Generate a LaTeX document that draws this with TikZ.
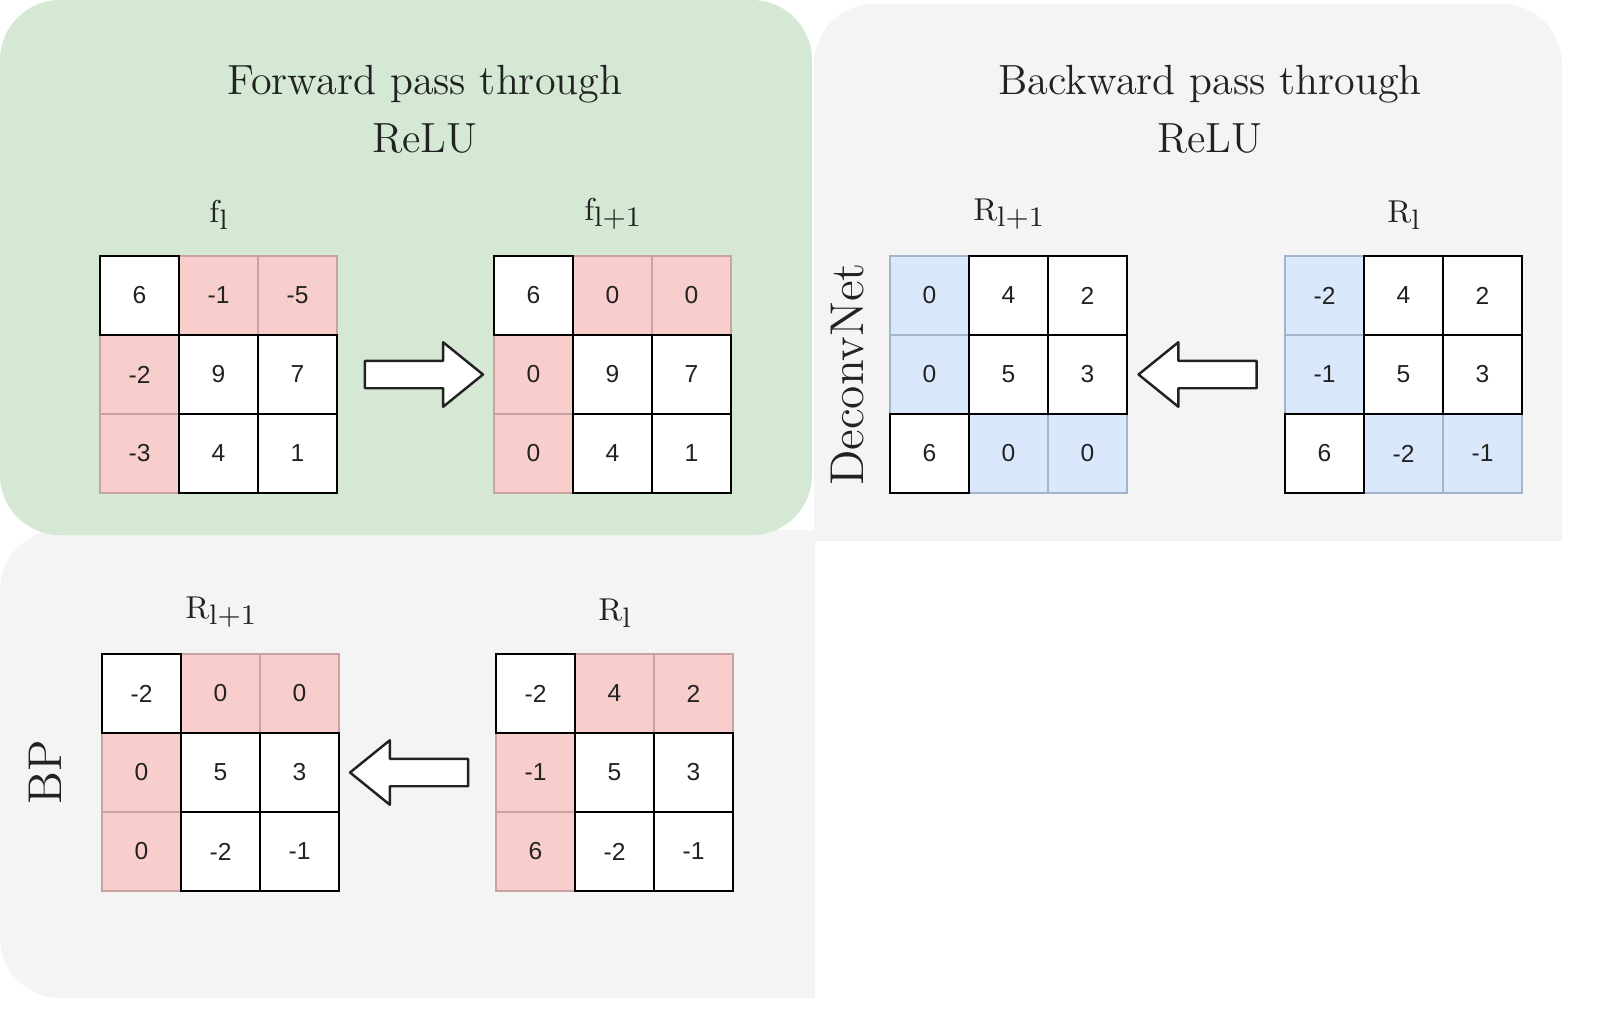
\documentclass[tikz,border=0pt]{standalone}
\usepackage{fontspec}
\setsansfont{Liberation Sans}
\usetikzlibrary{shapes,shapes.arrows,positioning,calc}

\definecolor{greenpanel}{HTML}{D5E8D4}
\definecolor{graypanel}{HTML}{F4F4F4}
\definecolor{pinkfill}{HTML}{F8CECC}
\definecolor{pinkline}{HTML}{C9A3A1}
\definecolor{bluefill}{HTML}{DAE8FC}
\definecolor{blueline}{HTML}{A3B4CC}
\definecolor{ink}{HTML}{222222}

\tikzset{
  basic/.style  = {inner sep=0pt, outer sep=0pt, minimum size=0.79cm, text=ink,
                   font=\sffamily\fontsize{7}{8}\selectfont},
  cell0/.style  = {basic, fill=white},
  cell1/.style  = {basic, fill=pinkfill, draw=pinkline, line width=0.4pt},
  cell2/.style  = {basic, fill=bluefill, draw=blueline, line width=0.4pt},
  rim0/.style   = {draw=black, line width=0.75pt},
  rim1/.style   = {draw=none},
  rim2/.style   = {draw=none},
  title/.style  = {align=center, text=ink, font=\fontsize{12}{16.5}\selectfont},
  lab/.style    = {text=ink, font=\fontsize{9}{10}\selectfont, inner sep=1pt},
  side/.style   = {text=ink, font=\fontsize{13.5}{15}\selectfont, rotate=90,
                   anchor=south, inner sep=0pt},
  blockarrow/.style = {single arrow, draw=ink, fill=white, line width=0.7pt,
                   line join=round, minimum height=1.18cm, inner xsep=0pt,
                   inner ysep=0.125cm, single arrow head extend=0.185cm,
                   single arrow tip angle=78}
}

% lowered index of a grid label
\newcommand{\idx}[1]{\raisebox{-0.5ex}{\fontsize{8}{9}\selectfont#1}}

% 3x3 grid: name, top left corner, list of value/tone
\newcommand{\cellgrid}[3]{%
  \foreach \val/\tone [count=\k from 0] in {#3} {
    \pgfmathtruncatemacro{\col}{mod(\k,3)}
    \pgfmathtruncatemacro{\row}{div(\k,3)}
    \node[cell\tone] (#1-\row-\col) at ($(#2)+(0.395+0.79*\col,-0.395-0.79*\row)$) {\val};
  }
  % black frames of the white cells on top
  \foreach \val/\tone [count=\k from 0] in {#3} {
    \pgfmathtruncatemacro{\col}{mod(\k,3)}
    \pgfmathtruncatemacro{\row}{div(\k,3)}
    \draw[rim\tone] (#1-\row-\col.north west) rectangle (#1-\row-\col.south east);
  }
}

\begin{document}
\begin{tikzpicture}
\useasboundingbox (0,0) rectangle (15.98,-10.09);

% panels
\begin{scope}
  \clip (0,-5.2) rectangle (8.15,-10.09);
  \fill[graypanel, rounded corners=0.6cm] (0,-5.3) rectangle (10,-9.98);
\end{scope}
\begin{scope}
  \clip (8,0) rectangle (15.98,-5.40);
  \fill[graypanel, rounded corners=0.6cm] (8.14,-0.04) rectangle (15.62,-7);
\end{scope}
\fill[greenpanel, rounded corners=0.6cm] (0,0) rectangle (8.12,-5.35);

% titles
\node[title] (fwdtitle) at (4.25,-1.09) {Forward pass through\\ReLU};
\node[title] (bwdtitle) at (12.1,-1.09) {Backward pass through\\ReLU};

% grids
\cellgrid{fl}{1.00,-2.56}{6/0,-1/1,-5/1,-2/1,9/0,7/0,-3/1,4/0,1/0}
\cellgrid{fn}{4.94,-2.56}{6/0,0/1,0/1,0/1,9/0,7/0,0/1,4/0,1/0}
\cellgrid{dn}{8.90,-2.56}{0/2,4/0,2/0,0/2,5/0,3/0,6/0,0/2,0/2}
\cellgrid{dl}{12.85,-2.56}{-2/2,4/0,2/0,-1/2,5/0,3/0,6/0,-2/2,-1/2}
\cellgrid{bn}{1.02,-6.54}{-2/0,0/1,0/1,0/1,5/0,3/0,0/1,-2/0,-1/0}
\cellgrid{bl}{4.96,-6.54}{-2/0,4/1,2/1,-1/1,5/0,3/0,6/1,-2/0,-1/0}

% grid labels
\node[lab, above=0.22cm of fl-0-1] (fllab) {f\idx{l}};
\node[lab, above=0.22cm of fn-0-1] (fnlab) {f\idx{l+1}};
\node[lab, above=0.22cm of dn-0-1] (dnlab) {R\idx{l+1}};
\node[lab, above=0.22cm of dl-0-1] (dllab) {R\idx{l}};
\node[lab, above=0.22cm of bn-0-1] (bnlab) {R\idx{l+1}};
\node[lab, above=0.22cm of bl-0-1] (bllab) {R\idx{l}};

% side labels
\node[side] (dcvlab) at ($(dn-1-0.west)+(-0.25,0)$) {DeconvNet};
\node[side] (bplab) at ($(bn-1-0.west)+(-0.4,0)$) {BP};

% block arrows between the grids
\node[blockarrow] (fwd) at ($(fl-1-2.east)!0.5!(fn-1-0.west)$) {};
\node[blockarrow, shape border rotate=180] (dcv) at ($(dn-1-2.east)!0.5!(dl-1-0.west)$) {};
\node[blockarrow, shape border rotate=180] (bp) at ($(bn-1-2.east)!0.5!(bl-1-0.west)$) {};

\end{tikzpicture}
\end{document}
